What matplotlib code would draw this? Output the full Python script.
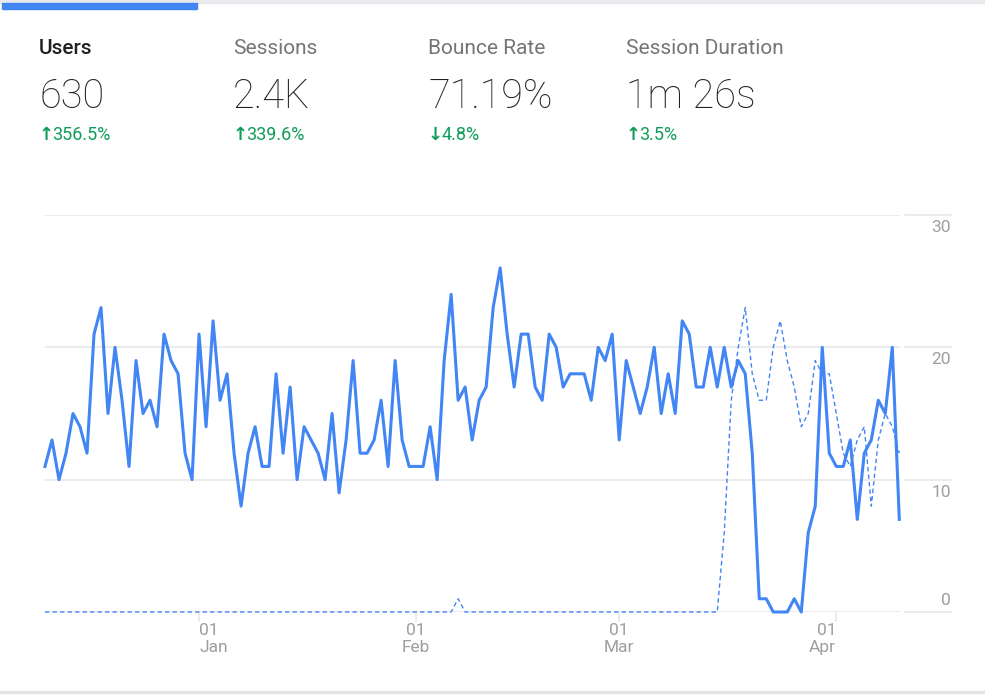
import matplotlib
matplotlib.use("Agg")
import matplotlib.pyplot as plt
import matplotlib.dates as mdates
import matplotlib.transforms as mtransforms
from matplotlib.patches import Rectangle
import pandas as pd

# ---------------- data ----------------
start_date = "2019-12-10"
users = [11, 13, 10, 12, 15, 14, 12, 21, 23, 15, 20, 16, 11, 19, 15, 16, 14, 21, 19, 18,
         12, 10, 21, 14, 22, 16, 18, 12, 8, 12, 14, 11, 11, 18, 12, 17, 10, 14, 13, 12,
         10, 15, 9, 13, 19, 12, 12, 13, 16, 11, 19, 13, 11, 11, 11, 14, 10, 19, 24, 16,
         17, 13, 16, 17, 23, 26, 21, 17, 21, 21, 17, 16, 21, 20, 17, 18, 18, 18, 16, 20,
         19, 21, 13, 19, 17, 15, 17, 20, 15, 18, 15, 22, 21, 17, 17, 20, 17, 20, 17, 19,
         18, 12, 1, 1, 0, 0, 0, 1, 0, 6, 8, 20, 12, 11, 11, 13, 7, 12, 13, 16,
         15, 20, 7]
previous = [0] * 59 + [1] + [0] * 37 + [6, 16, 20, 23, 18, 16, 16, 20, 22, 19, 17, 14, 15, 19,
                                       18, 18, 15, 12, 11, 13, 14, 8, 13, 15, 14, 12]
month_ticks = ["2020-01-01", "2020-02-01", "2020-03-01", "2020-04-01"]
month_labels = ["01\nJan", "01\nFeb", "01\nMar", "01\nApr"]
y_ticks = [0, 10, 20, 30]

metric_names = ["Users", "Sessions", "Bounce Rate", "Session Duration"]
metric_values = ["630", "2.4K", "71.19%", "1m 26s"]
delta_arrows = ["\u2191", "\u2191", "\u2193", "\u2191"]
delta_texts = ["356.5%", "339.6%", "4.8%", "3.5%"]

# ---------------- style ----------------
BLUE = "#4285F4"
GREEN = "#0F9D58"
GRID = "#E6E6E6"
AXTXT = "#9E9E9E"
FONT = ["Roboto", "DejaVu Sans"]
plt.rcParams["font.family"] = FONT

W, H = 985, 697
fig = plt.figure(figsize=(W / 100, H / 100), dpi=100)
fig.patch.set_facecolor("white")

def fx(px):
    return px / W

def fy(py):
    return 1 - py / H

# top border + active tab bar
fig.patches.append(Rectangle((0, fy(2.5)), 1, 2.5 / H, transform=fig.transFigure,
                             color="#E8EAED", zorder=0))
fig.patches.append(Rectangle((fx(2), fy(9)), fx(195), 6.5 / H, transform=fig.transFigure,
                             color=BLUE, zorder=1))
# bottom border
fig.patches.append(Rectangle((0, fy(693)), 1, 2 / H, transform=fig.transFigure,
                             color="#E3E3E3", zorder=0))

# header metrics
col_x = [39, 233, 428, 626]
for i, (n, v) in enumerate(zip(metric_names, metric_values)):
    x0 = fx(col_x[i])
    fig.text(x0, fy(53.5), n, fontsize=15, color="#212121" if i == 0 else "#757575",
             fontweight="medium" if i == 0 else "normal", va="baseline", ha="left")
    fig.text(x0, fy(108), v, fontsize=28.5, color="#212121", fontweight="light",
             va="baseline", ha="left")
    fig.text(x0, fy(140), delta_arrows[i], fontsize=13, color=GREEN, fontweight="bold",
             va="baseline", ha="left", family=["DejaVu Sans"])
    fig.text(x0 + fx(13.5), fy(140), delta_texts[i], fontsize=13, color=GREEN,
             va="baseline", ha="left")

# ---------------- chart ----------------
ax = fig.add_axes([fx(45), fy(612), fx(900 - 45), (612 - 215) / H])
dates = pd.date_range(start_date, periods=len(users))
xd = mdates.date2num(dates)

ax.plot(xd, previous, color=BLUE, lw=1.0, ls=(0, (3.2, 2.2)), clip_on=False, zorder=3)
ax.plot(xd, users, color=BLUE, lw=2.2, clip_on=False, zorder=4)

ax.set_xlim(xd[0], xd[0] + 122.1)
ax.set_ylim(0, 30)
for s in ax.spines.values():
    s.set_visible(False)
ax.set_xticks([])
ax.set_yticks([])
ax.patch.set_alpha(0)

blend_y = mtransforms.blended_transform_factory(ax.transAxes, ax.transData)
for v in y_ticks:
    ax.axhline(v, color=GRID, lw=1.1, zorder=1)
    ax.plot([1.006, 1.0596], [v, v], color=GRID, lw=1.1, transform=blend_y, clip_on=False)
    off = 8.3 if v == 0 else -9.0
    tr = mtransforms.offset_copy(blend_y, fig=fig, x=0, y=off, units="points")
    ax.text(1.0596, v, str(v), transform=tr, ha="right", va="center", fontsize=12.5,
            color=AXTXT)

blend_x = mtransforms.blended_transform_factory(ax.transData, ax.transAxes)
mt = mdates.date2num(pd.to_datetime(month_ticks))
has = ["left", "center", "center", "right"]
for m, lab, ha in zip(mt, month_labels, has):
    ax.plot([m, m], [0, -9 / 397], color=GRID, lw=1.1, transform=blend_x, clip_on=False)
    ax.text(m, -11 / 397, lab, transform=blend_x, ha=ha, va="top", multialignment=ha,
            fontsize=12.5, color=AXTXT, linespacing=1.15)

fig.savefig("out.png", dpi=100, facecolor="white")
